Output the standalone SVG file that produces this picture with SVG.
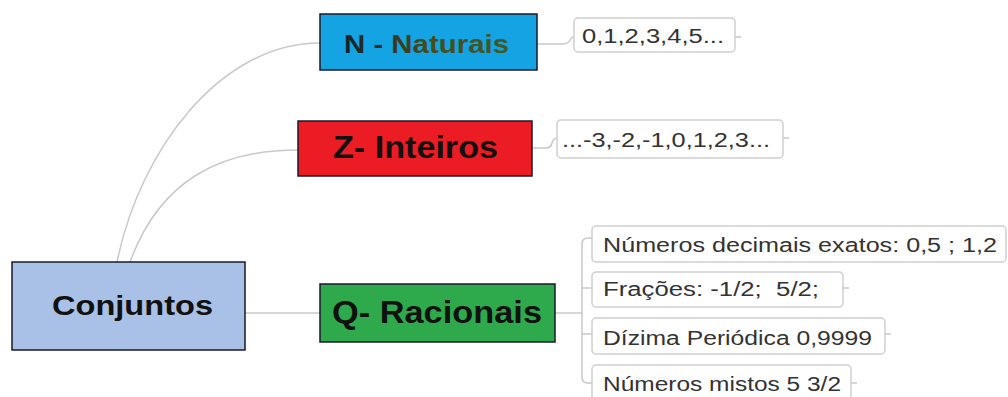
<svg xmlns="http://www.w3.org/2000/svg" width="1008" height="397" viewBox="0 0 1008 397">
<defs>
<linearGradient id="ng" x1="0" y1="0" x2="1" y2="0">
<stop offset="0" stop-color="#18202c"/>
<stop offset="0.5" stop-color="#4a4a18"/>
<stop offset="1" stop-color="#3f5a28"/>
</linearGradient>
</defs>
<style>
.main{stroke:#1a1a2a;stroke-width:1.5}
.leaf{fill:#fff;stroke:#cfcfcf;stroke-width:1.5}
.lbl{font-family:"Liberation Sans",Arial,sans-serif;font-weight:bold;fill:#111}
.txt{font-family:"Liberation Sans",Arial,sans-serif;font-size:20px;fill:#333}
.con{fill:none;stroke:#c9c9c9;stroke-width:1.5}
</style>
<rect width="1008" height="397" fill="#fff"/>
<g id="connectors">
<path class="con" d="M117,262 C140,150 220,43 320,43"/>
<path class="con" d="M130,262 C160,180 220,150 298,150"/>
<path class="con" d="M245,313 H320"/>
<path class="con" d="M537,44 H562 Q568,44 570,40 Q572,36 578,36"/>
<path class="con" d="M532,148 H546 Q551,148 552,143 Q553,138 558,138"/>
<path class="con" d="M555,313 H582"/>
<path class="con" d="M592,238 H588 Q582,238 582,244 V377 Q582,383 588,383 H592"/>
<path class="con" d="M582,288 H592 M582,334 H592"/>
<path class="con" d="M735,37 H741 M783,138 H789 M843,288 H849 M885,334 H891 M851,383 H857"/>
</g>
<g id="conjuntos">
<rect class="main" x="12" y="262" width="233" height="88" fill="#a9c1e6"/>
<text class="lbl" x="52" y="315" font-size="28" textLength="161" lengthAdjust="spacingAndGlyphs">Conjuntos</text>
</g>
<g id="naturais">
<rect class="main" x="320" y="14" width="217" height="56" fill="#14a3e3"/>
<text class="lbl" x="344" y="53" font-size="25" textLength="165" lengthAdjust="spacingAndGlyphs" style="fill:url(#ng)">N - Naturais</text>
</g>
<g id="naturais-val">
<rect class="leaf" x="574" y="18" width="161" height="34" rx="4"/>
<text class="txt" x="582" y="43" textLength="142" lengthAdjust="spacingAndGlyphs">0,1,2,3,4,5...</text>
</g>
<g id="inteiros">
<rect class="main" x="298" y="121" width="234" height="55" fill="#ec1c24"/>
<text class="lbl" x="333" y="158" font-size="31" textLength="165" lengthAdjust="spacingAndGlyphs">Z- Inteiros</text>
</g>
<g id="inteiros-val">
<rect class="leaf" x="557" y="120" width="226" height="38" rx="4"/>
<text class="txt" x="562" y="147" textLength="208" lengthAdjust="spacingAndGlyphs">...-3,-2,-1,0,1,2,3...</text>
</g>
<g id="racionais">
<rect class="main" x="320" y="284" width="235" height="58" fill="#2eaa4c"/>
<text class="lbl" x="332" y="323" font-size="31" textLength="210" lengthAdjust="spacingAndGlyphs">Q- Racionais</text>
</g>
<g id="decimais">
<rect class="leaf" x="592" y="226" width="414" height="36" rx="4"/>
<text class="txt" x="603" y="252" textLength="394" lengthAdjust="spacingAndGlyphs">Números decimais exatos: 0,5 ; 1,2</text>
</g>
<g id="fracoes">
<rect class="leaf" x="592" y="272" width="251" height="35" rx="4"/>
<text class="txt" x="603" y="296" textLength="216" lengthAdjust="spacingAndGlyphs" xml:space="preserve">Frações: -1/2;  5/2;</text>
</g>
<g id="dizima">
<rect class="leaf" x="592" y="318" width="293" height="36" rx="4"/>
<text class="txt" x="603" y="345" textLength="269" lengthAdjust="spacingAndGlyphs">Dízima Periódica 0,9999</text>
</g>
<g id="mistos">
<rect class="leaf" x="592" y="365" width="259" height="40" rx="4"/>
<text class="txt" x="603" y="391" textLength="238" lengthAdjust="spacingAndGlyphs">Números mistos 5 3/2</text>
</g>
</svg>
